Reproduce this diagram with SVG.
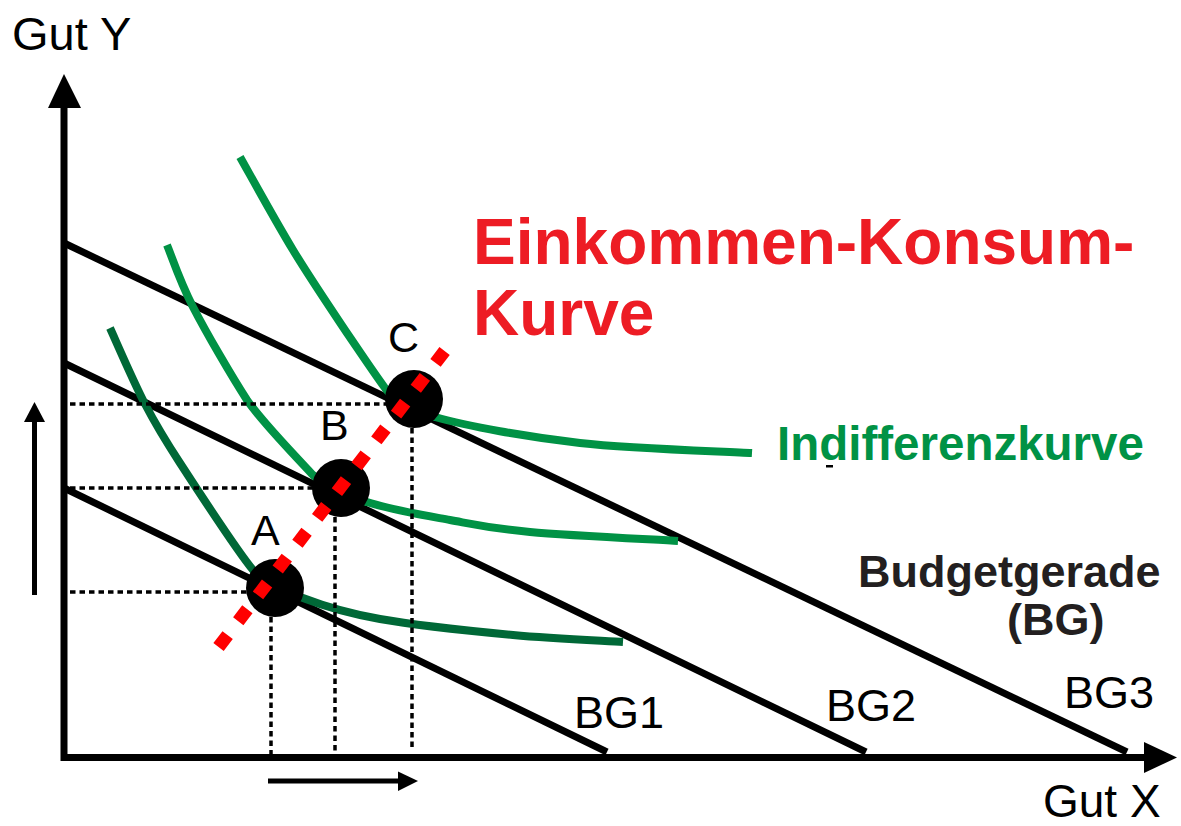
<svg xmlns="http://www.w3.org/2000/svg" width="1181" height="826" viewBox="0 0 1181 826">
<style>
.axis{stroke:#000;stroke-width:7;fill:none}
.bg{stroke:#000;stroke-width:7;fill:none}
.dot{stroke:#000;stroke-width:3.5;stroke-dasharray:5.5 4;fill:none}
.ic{stroke-width:8;fill:none;stroke-linecap:butt}
.lt{stroke:#009245}
.dk{stroke:#006837}
.pt{fill:#000}
.lbl{font-family:"Liberation Sans",Arial,sans-serif;fill:#000}
.bold{font-family:"Liberation Sans",Arial,sans-serif;font-weight:bold}
</style>
<rect width="1181" height="826" fill="#fff"/>
<g id="axes">
<line class="axis" x1="64" y1="761" x2="64" y2="104"/>
<polygon points="64,74 48,108 81,108" fill="#000"/>
<line class="axis" x1="61" y1="757.5" x2="1147" y2="757.5"/>
<polygon points="1177,757.5 1144,742 1144,773" fill="#000"/>
<text class="lbl" x="12" y="50" font-size="47">Gut Y</text>
<text class="lbl" x="1043" y="817" font-size="46">Gut X</text>
</g>
<g id="budget-lines">
<line class="bg" x1="64" y1="243" x2="1127" y2="752"/>
<line class="bg" x1="64" y1="363" x2="866" y2="752"/>
<line class="bg" x1="64" y1="488" x2="607" y2="752"/>
<text class="lbl" x="574" y="728" font-size="45">BG1</text>
<text class="lbl" x="826" y="721" font-size="45">BG2</text>
<text class="lbl" x="1064" y="708" font-size="45">BG3</text>
</g>
<g id="indifference-curves">
<path class="ic lt" d="M240,157 C248.8,172.5 275.2,220.7 293,250 C310.8,279.3 331.7,310 347,333 C360,352 374,373 385,388 C395,401 410,412 435,417 C467.5,426.2 527.2,437 580,443 C632.8,449 723.3,451.3 752,453"/>
<path class="ic lt" d="M167,245 C171.3,255.3 179.7,281.2 193,307 C206.3,332.8 232.5,377.8 247,400 C262,421.8 297,458 313,475 C328,489 347,497 367,502 C389.8,509.5 422.8,515 450,520 C477.2,525 492,528.5 530,532 C568,535.5 653.3,539.5 678,541"/>
<path class="ic dk" d="M110,328 C115.8,340.7 133.3,381.5 145,404 C156.7,426.5 165,440 180,463 C198,490.7 238,552 253,570 C268,586 281.8,592 303,598 C324.2,606.2 345,612.8 380,619 C415,625.2 472.5,631.2 513,635 C553.5,638.8 604.7,640.8 623,642"/>
</g>
<g id="guides">
<line class="dot" x1="70" y1="404" x2="386" y2="404"/>
<line class="dot" x1="70" y1="488" x2="314" y2="488"/>
<line class="dot" x1="70" y1="592" x2="248" y2="592"/>
<line class="dot" x1="271" y1="617" x2="271" y2="756"/>
<line class="dot" x1="335" y1="517" x2="335" y2="756"/>
<line class="dot" x1="412" y1="428" x2="412" y2="750"/>
</g>
<g id="point-A"><circle class="pt" cx="275" cy="588" r="29"/><text class="lbl" x="251" y="545" font-size="43">A</text></g>
<g id="point-B"><circle class="pt" cx="341" cy="488" r="29"/><text class="lbl" x="320" y="440" font-size="43">B</text></g>
<g id="point-C"><circle class="pt" cx="414" cy="399" r="29"/><text class="lbl" x="388" y="352" font-size="43">C</text></g>
<g id="income-consumption-curve">
<line x1="444.6" y1="351" x2="218.2" y2="647.5" stroke="#ff0000" stroke-width="13" stroke-dasharray="15 17.5"/>
<text class="bold" x="473" y="264" font-size="64" fill="#ed1c24">Einkommen-Konsum-</text>
<text class="bold" x="473" y="335" font-size="64" fill="#ed1c24">Kurve</text>
</g>
<g id="labels">
<text class="bold" x="777" y="460" font-size="47.5" fill="#009245">Indifferenzkurve</text>
<rect x="826" y="465" width="7" height="2.5" fill="#000"/>
<text class="bold" x="858" y="587" font-size="45" fill="#231f20">Budgetgerade</text>
<text class="bold" x="1007" y="635" font-size="45" fill="#231f20">(BG)</text>
</g>
<g id="shift-arrows">
<line x1="34.5" y1="595" x2="34.5" y2="418" stroke="#000" stroke-width="5"/>
<polygon points="34.5,402 24,422 45,422" fill="#000"/>
<line x1="268" y1="781" x2="400" y2="781" stroke="#000" stroke-width="5"/>
<polygon points="418,781 398,771.5 398,791" fill="#000"/>
</g>
</svg>
